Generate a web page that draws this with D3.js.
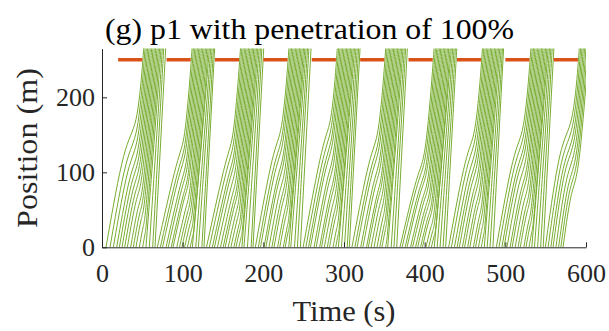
<!DOCTYPE html>
<html>
<head>
<meta charset="utf-8">
<script src="https://cdn.jsdelivr.net/npm/d3@7"></script>
<style>
  body { margin: 0; background: #fff; }
  svg { display: block; }
</style>
</head>
<body>
<svg id="chart" width="609" height="331"></svg>
<script>
// signal timing (s)
var redStart = [20, 80, 140, 200, 260, 320, 380, 440, 500, 560];
var redEnd   = [50, 110, 170, 230, 290, 350, 410, 470, 530, 590];
var stopLine = 250;

// entry times (s) at position 0, one list per green phase that serves them
var arrivals = [
  [5.0, 9.9, 14.0, 18.2, 21.5, 24.8, 28.1, 31.4, 35.5, 38.8, 42.1, 46.3, 50.4, 54.5, 58.6, 62.8, 65.7],
  [68.6, 72.3, 75.0, 79.4, 82.1, 85.8, 88.0, 92.7, 96.1, 99.0, 102.4, 105.9, 109.3, 112.0, 116.2, 119.5, 123.8, 126.4],
  [129.5, 133.0, 136.8, 139.4, 143.1, 146.9, 150.2, 152.6, 156.4, 159.8, 163.5, 166.1, 169.7, 173.4, 176.0, 180.3, 184.9, 187.2],
  [190.1, 193.8, 196.5, 200.9, 203.2, 207.0, 210.6, 213.3, 217.7, 220.4, 224.8, 227.1, 231.5, 234.0, 238.6, 242.2, 245.9],
  [249.3, 252.7, 256.0, 258.4, 262.9, 265.5, 269.8, 272.1, 275.6, 279.3, 282.0, 286.4, 289.7, 293.1, 296.8, 300.5, 304.0, 306.6],
  [309.8, 313.5, 316.2, 320.7, 323.4, 327.9, 330.1, 333.6, 337.2, 340.9, 344.3, 347.0, 351.6, 354.2, 358.5, 361.9, 365.3],
  [369.4, 372.0, 375.8, 378.1, 382.5, 385.0, 388.7, 391.3, 394.9, 397.2, 401.6, 405.0, 408.3, 411.9, 415.5, 419.1, 422.8, 426.0],
  [429.7, 433.1, 436.9, 440.2, 443.0, 446.8, 449.5, 453.3, 456.0, 460.4, 463.1, 466.7, 470.2, 473.9, 477.5, 481.0, 484.6],
  [488.8, 492.1, 495.7, 498.3, 502.0, 505.9, 508.4, 512.2, 515.8, 518.5, 522.9, 525.6, 529.3, 532.8, 536.1, 540.0, 543.7, 546.9],
  [549.6, 553.0, 556.4, 559.1, 562.7, 566.0, 568.8, 571.5]
];

// slow-down knee of each platoon: [t start, pos start, t end, pos end]
var waves = [
  [28, 142, 50, 40],
  [95, 128, 110, 38],
  [156, 131, 170, 38],
  [213, 137, 229, 40],
  [275, 150, 290, 40],
  [333, 131, 350, 40],
  [392, 105, 408, 36],
  [452, 132, 470, 40],
  [511, 135, 530, 40],
  [568, 143, 590, 45]
];

var xTicks = [0, 100, 200, 300, 400, 500, 600];
var yTicks = [0, 100, 200];

var vFree = 20;      // m/s
var headway = 1.65;  // s at the stop line
var vDis = 14;       // mean speed after the knee
var vCrawl = 1;

var green = '#77AC30';
var red = '#D95319';
var serif = '"Liberation Serif", "DejaVu Serif", "Times New Roman", Times, serif';

var svg = d3.select('#chart');
var x = d3.scaleLinear().domain([0, 600]).range([102, 586]);
var y = d3.scaleLinear().domain([0, 265]).range([247.3, 48.6]);

svg.append('defs').append('clipPath').attr('id', 'plot')
  .append('rect')
  .attr('x', x(0)).attr('y', y(265))
  .attr('width', x(600) - x(0)).attr('height', y(0) - y(265));

// build each vehicle's path from its entry time and the platoon knee
var paths = [];
arrivals.forEach(function(list, k) {
  var g = redEnd[k];
  var w = waves[k];
  var sW = (w[3] - w[1]) / (w[2] - w[0]);
  var prevTs = -Infinity, vA = null;
  list.forEach(function(t0) {
    var tsFree = t0 + stopLine / vFree;
    var ts = Math.max(tsFree, prevTs + headway, g + 1);
    prevTs = ts;
    if (ts - tsFree < 0.3) {
      paths.push([[t0, 0], [t0 + 290 / vFree, 290]]);
      return;
    }
    if (vA === null) vA = w[1] / (w[0] - t0);
    var tb = (w[1] - sW * w[0] + vA * t0) / (vA - sW);
    var pb = vA * (tb - t0);
    if (pb > w[1]) { pb = w[1]; tb = t0 + pb / vA; }
    var pts = [[t0, 0]];
    if (pb > 15 && tb < ts - 2) {
      pts.push([tb, pb]);
      var c = ts - tb - (stopLine - pb) / vDis;
      if (c > 0.5) pts.push([tb + c, pb + vCrawl * c]);
    }
    pts.push([ts, stopLine], [ts + 40 / vFree, stopLine + 40]);
    paths.push(pts);
  });
});

var line = d3.line()
  .x(function(d) { return x(d[0]); })
  .y(function(d) { return y(d[1]); })
  .curve(d3.curveBasis);

var plot = svg.append('g').attr('clip-path', 'url(#plot)');

plot.selectAll('path.veh')
  .data(paths)
  .join('path')
  .attr('class', 'veh')
  .attr('d', line)
  .attr('fill', 'none')
  .attr('stroke', green)
  .attr('stroke-width', 1);

plot.selectAll('line.red')
  .data(redStart)
  .join('line')
  .attr('class', 'red')
  .attr('x1', function(d) { return x(d); })
  .attr('x2', function(d, i) { return x(redEnd[i]); })
  .attr('y1', y(stopLine))
  .attr('y2', y(stopLine))
  .attr('stroke', red)
  .attr('stroke-width', 3.5);

// axes
var xAxis = svg.append('g')
  .attr('transform', 'translate(0,' + y(0) + ')')
  .call(d3.axisBottom(x).tickValues(xTicks).tickSizeInner(-5).tickSizeOuter(0));
xAxis.selectAll('text').attr('y', 34.5).attr('dy', null);

var yAxis = svg.append('g')
  .attr('transform', 'translate(' + x(0) + ',0)')
  .call(d3.axisLeft(y).tickValues(yTicks).tickSizeInner(-5).tickSizeOuter(0).tickPadding(7));

svg.selectAll('.tick text')
  .attr('font-size', 26).attr('fill', '#262626')
  .style('font-family', serif);
svg.selectAll('g').attr('font-family', null);
svg.selectAll('.domain, .tick line').attr('stroke', '#262626').attr('stroke-width', 1);

svg.append('text')
  .attr('x', 105).attr('y', 39)
  .attr('font-size', 30)
  .attr('textLength', 409).attr('lengthAdjust', 'spacingAndGlyphs')
  .style('font-family', serif).style('fill', '#000')
  .text('(g) p1 with penetration of 100%');

svg.append('text')
  .attr('x', 344).attr('y', 321)
  .attr('text-anchor', 'middle')
  .attr('font-size', 29)
  .attr('textLength', 103).attr('lengthAdjust', 'spacingAndGlyphs')
  .style('font-family', serif).style('fill', '#262626')
  .text('Time (s)');

svg.append('text')
  .attr('transform', 'translate(37,148) rotate(-90)')
  .attr('text-anchor', 'middle')
  .attr('font-size', 29)
  .attr('textLength', 160).attr('lengthAdjust', 'spacingAndGlyphs')
  .style('font-family', serif).style('fill', '#262626')
  .text('Position (m)');
</script>
</body>
</html>
